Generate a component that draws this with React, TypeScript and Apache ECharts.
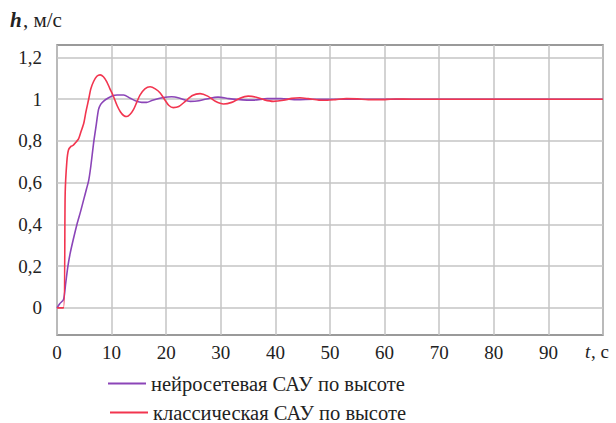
import React, { useEffect, useRef } from "react";
import * as echarts from "echarts";

const neuralT = [0, 0.5, 1.2, 1.6, 2.0, 2.4, 3.0, 3.65, 4.3, 4.9, 5.4, 5.8, 6.2, 6.7, 7.2, 7.6, 8.0, 8.5, 9.3, 10.2, 11, 12.2, 13.4, 14.6, 15.5, 16.4, 17.5, 19.5, 21, 22.5, 24.4, 26, 28, 29.5, 31.5, 34, 36, 38.5, 41, 44, 47, 100];
const neuralV = [0, 0.02, 0.04, 0.12, 0.2, 0.26, 0.33, 0.4, 0.46, 0.52, 0.57, 0.61, 0.68, 0.79, 0.88, 0.95, 0.975, 0.99, 1.005, 1.017, 1.02, 1.02, 1.005, 0.99, 0.985, 0.985, 0.995, 1.008, 1.012, 1.005, 0.99, 0.993, 1.005, 1.01, 1.003, 0.997, 0.996, 1.003, 1.003, 0.998, 1.0, 1.0];

const classicT = [0, 1.2, 1.5, 1.8, 2.1, 2.6, 3.0, 3.5, 3.95, 4.4, 4.9, 5.3, 5.8, 6.2, 6.7, 7.3, 7.9, 8.5, 9.1, 9.7, 10.35, 11.0, 11.6, 12.2, 12.8, 13.4, 14.0, 14.6, 15.2, 16.1, 17.05, 18.0, 18.9, 19.8, 20.5, 21.3, 22.3, 23.5, 24.8, 26.2, 27.6, 29.0, 30.5, 32.0, 33.5, 35.0, 36.5, 38.0, 39.6, 41.5, 43, 44.5, 46, 48, 49.5, 51, 53, 55, 57, 59, 62, 65, 100];
const classicV = [0, 0.0, 0.55, 0.7, 0.757, 0.775, 0.78, 0.795, 0.81, 0.845, 0.885, 0.94, 1.0, 1.05, 1.085, 1.11, 1.117, 1.108, 1.085, 1.05, 1.013, 0.97, 0.94, 0.922, 0.917, 0.928, 0.95, 0.985, 1.02, 1.05, 1.06, 1.05, 1.03, 0.995, 0.97, 0.96, 0.965, 0.99, 1.018, 1.027, 1.015, 0.99, 0.977, 0.985, 1.005, 1.015, 1.01, 0.997, 0.99, 0.995, 1.004, 1.007, 1.003, 0.996, 0.995, 0.998, 1.003, 1.002, 0.998, 0.998, 1.001, 1.0, 1.0];

const yTicks = [0, 0.2, 0.4, 0.6, 0.8, 1, 1.2];
const seriesNames = ["нейросетевая САУ по высоте", "классическая САУ по высоте"];
const colors = ["#8b45b8", "#f2354f"];

const FONT = "Liberation Serif";

export default function App() {
  const ref = useRef<HTMLDivElement>(null);
  useEffect(() => {
    const chart = echarts.init(ref.current!, null, { renderer: "svg" });
    const zip = (t: number[], v: number[]) => t.map((x, i) => [x, v[i]]);
    const legendBase = {
      orient: "horizontal",
      padding: 0,
      itemWidth: 38,
      itemHeight: 2,
      icon: "rect",
      textStyle: { fontFamily: FONT, fontSize: 20.5, color: "#222" },
    };
    chart.setOption({
      animation: false,
      grid: { left: 57, right: 13, top: 45, bottom: 88, show: true, borderColor: "#7a7a7a", borderWidth: 1.5, backgroundColor: "transparent" },
      xAxis: {
        type: "value",
        min: 0,
        max: 100,
        interval: 10,
        axisLine: { show: false },
        axisTick: { show: false },
        splitLine: { show: true, lineStyle: { color: "#c4c4c4", width: 1.5 } },
        axisLabel: {
          color: "#222",
          fontFamily: FONT,
          fontSize: 19,
          margin: 8,
          formatter: (v: number) => (v >= 100 ? "" : String(v)),
        },
      },
      yAxis: {
        type: "value",
        min: -0.13,
        max: 1.26,
        axisLine: { show: false },
        axisTick: { show: false, customValues: yTicks },
        splitLine: { show: true, lineStyle: { color: "#c4c4c4", width: 1.5 } },
        axisLabel: {
          customValues: yTicks,
          color: "#222",
          fontFamily: FONT,
          fontSize: 19,
          margin: 15,
          formatter: (v: number) => String(Math.round(v * 10) / 10).replace(".", ","),
        },
      },
      legend: [
        { ...legendBase, left: 108, top: 373, data: [seriesNames[0]] },
        { ...legendBase, left: 110, top: 402, data: [seriesNames[1]] },
      ],
      graphic: [
        { type: "text", left: 10, top: 9, style: { text: "h", fontFamily: FONT, fontSize: 21, fontStyle: "italic", fontWeight: "bold", fill: "#222" } },
        { type: "text", left: 23, top: 9, style: { text: ", м/с", fontFamily: FONT, fontSize: 21, fill: "#222" } },
        { type: "text", left: 585, top: 342, style: { text: "t", fontFamily: FONT, fontSize: 19, fontStyle: "italic", fill: "#222" } },
        { type: "text", left: 591, top: 342, style: { text: ", с", fontFamily: FONT, fontSize: 19, fill: "#222" } },
      ],
      series: [
        {
          name: seriesNames[0],
          type: "line",
          data: zip(neuralT, neuralV),
          showSymbol: false,
          symbol: "none",
          smooth: 0.25,
          lineStyle: { color: colors[0], width: 1.6 },
          itemStyle: { color: colors[0] },
          z: 3,
        },
        {
          name: seriesNames[1],
          type: "line",
          data: zip(classicT, classicV),
          showSymbol: false,
          symbol: "none",
          smooth: 0.25,
          lineStyle: { color: colors[1], width: 1.6 },
          itemStyle: { color: colors[1] },
          z: 4,
        },
      ],
    });
    return () => chart.dispose();
  }, []);
  return <div ref={ref} style={{ width: 616, height: 423, position: "absolute", left: 0, top: 0 }} />;
}
